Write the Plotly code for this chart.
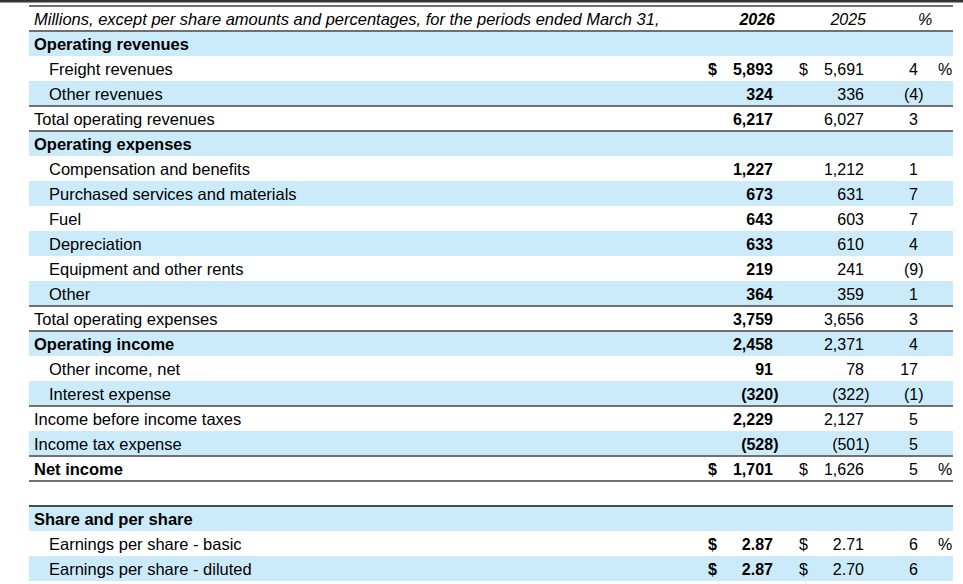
import plotly.graph_objects as go

header_label = "Millions, except per share amounts and percentages, for the periods ended March 31,"
header_cols = ["2026", "2025", "%"]

labels = [
    "Operating revenues", "Freight revenues", "Other revenues", "Total operating revenues",
    "Operating expenses", "Compensation and benefits", "Purchased services and materials", "Fuel",
    "Depreciation", "Equipment and other rents", "Other", "Total operating expenses",
    "Operating income", "Other income, net", "Interest expense", "Income before income taxes",
    "Income tax expense", "Net income", "", "Share and per share",
    "Earnings per share - basic", "Earnings per share - diluted",
]
v2026 = [None, 5893, 324, 6217, None, 1227, 673, 643, 633, 219, 364, 3759,
         2458, 91, -320, 2229, -528, 1701, None, None, 2.87, 2.87]
v2025 = [None, 5691, 336, 6027, None, 1212, 631, 603, 610, 241, 359, 3656,
         2371, 78, -322, 2127, -501, 1626, None, None, 2.71, 2.70]
pct_change = [None, 4, -4, 3, None, 1, 7, 7, 4, -9, 1, 3,
              4, 17, -1, 5, 5, 5, None, None, 6, 6]
dollar_rows = ["Freight revenues", "Net income",
               "Earnings per share - basic", "Earnings per share - diluted"]
pct_sign_rows = ["Freight revenues", "Net income", "Earnings per share - basic"]
per_share_rows = ["Earnings per share - basic", "Earnings per share - diluted"]

# ---- styling ----
bold_rows = ["Operating revenues", "Operating expenses", "Operating income",
             "Net income", "Share and per share"]
indented_rows = ["Freight revenues", "Other revenues", "Compensation and benefits",
                 "Purchased services and materials", "Fuel", "Depreciation",
                 "Equipment and other rents", "Other", "Other income, net",
                 "Interest expense", "Earnings per share - basic",
                 "Earnings per share - diluted"]
shaded = [1, 3, 5, 7, 9, 11, 13, 15, 17, 20, 22]     # row numbers, header = 0
rules_above = [0, 1, 4, 5, 12, 13, 16, 18, 19, 20]

FONT = "Liberation Sans, Arial, sans-serif"
FS_LABEL = 16.5
FS_NUM = 16
BLUE = "rgb(204,235,250)"
RULE = "#707070"
LEFT, RIGHT = 29, 953
X_LABEL, X_INDENT = 34, 49
X_D26, X_C26 = 708, 773
X_D25, X_C25 = 799, 864
X_PCT, X_PSIGN = 918, 938
PAREN = 5.5
DY = 0.1


def fmt(v, dec=0):
    s = f"{abs(v):,.{dec}f}"
    return f"({s})" if v < 0 else s


fig = go.Figure()


def add_text(xs, ys, texts, pos, bold=False, italic=False, size=FS_NUM):
    fig.add_trace(go.Scatter(
        x=xs, y=[y + DY for y in ys], text=texts, mode="text", textposition=pos,
        textfont=dict(family=FONT, size=size, color="black",
                      weight="bold" if bold else "normal",
                      style="italic" if italic else "normal"),
        hoverinfo="skip", showlegend=False))


# header
add_text([X_LABEL], [0], [header_label], "middle right", italic=True, size=FS_LABEL)
add_text([X_C26 + 2], [0], [header_cols[0]], "middle left", bold=True, italic=True)
add_text([X_C25 + 2], [0], [header_cols[1]], "middle left", italic=True)
add_text([925], [0], [header_cols[2]], "middle center", italic=True)

# row labels
groups = {}
for i, lab in enumerate(labels):
    if not lab:
        continue
    x = X_INDENT if lab in indented_rows else X_LABEL
    key = lab in bold_rows
    groups.setdefault(key, ([], [], []))
    groups[key][0].append(x)
    groups[key][1].append(i + 1)
    groups[key][2].append(lab)
for b, (xs, ys, ts) in groups.items():
    add_text(xs, ys, ts, "middle right", bold=b, size=FS_LABEL)


def add_column(values, right, bold, money=True):
    xs, ys, ts = [], [], []
    for i, v in enumerate(values):
        if v is None:
            continue
        dec = 2 if (money and labels[i] in per_share_rows) else 0
        xs.append(right + (PAREN if v < 0 else 0))
        ys.append(i + 1)
        ts.append(fmt(v, dec))
    add_text(xs, ys, ts, "middle left", bold=bold)


add_column(v2026, X_C26, True)
add_column(v2025, X_C25, False)
add_column(pct_change, X_PCT, False, money=False)

rows_d = [labels.index(r) + 1 for r in dollar_rows]
add_text([X_D26] * len(rows_d), rows_d, ["$"] * len(rows_d), "middle right", bold=True)
add_text([X_D25] * len(rows_d), rows_d, ["$"] * len(rows_d), "middle right")
rows_p = [labels.index(r) + 1 for r in pct_sign_rows]
add_text([X_PSIGN] * len(rows_p), rows_p, ["%"] * len(rows_p), "middle right")

# shading and rules
shapes = []
for r in shaded:
    shapes.append(dict(type="rect", xref="x", yref="y", x0=LEFT, x1=RIGHT,
                       y0=r - 0.5, y1=r + 0.5, fillcolor=BLUE, line_width=0,
                       layer="below"))
for r in rules_above:
    shapes.append(dict(type="line", xref="x", yref="y", x0=LEFT, x1=RIGHT,
                       y0=r - 0.5, y1=r - 0.5,
                       line=dict(color="#4a4a4a" if r == 20 else RULE, width=2)))
shapes.append(dict(type="rect", xref="paper", yref="paper", x0=0, x1=1,
                   y0=1 - 2.5 / 584, y1=1, fillcolor="#333333", line_width=0))

fig.update_layout(
    width=963, height=584,
    margin=dict(l=0, r=0, t=0, b=0),
    paper_bgcolor="white", plot_bgcolor="white",
    xaxis=dict(range=[0, 963], visible=False, fixedrange=True),
    yaxis=dict(range=[22.62, -0.74], visible=False, fixedrange=True),
    shapes=shapes,
)

fig.write_html("out.html", config={"displayModeBar": False},
               post_script="document.body.style.margin='0';document.body.style.overflow='hidden';")
